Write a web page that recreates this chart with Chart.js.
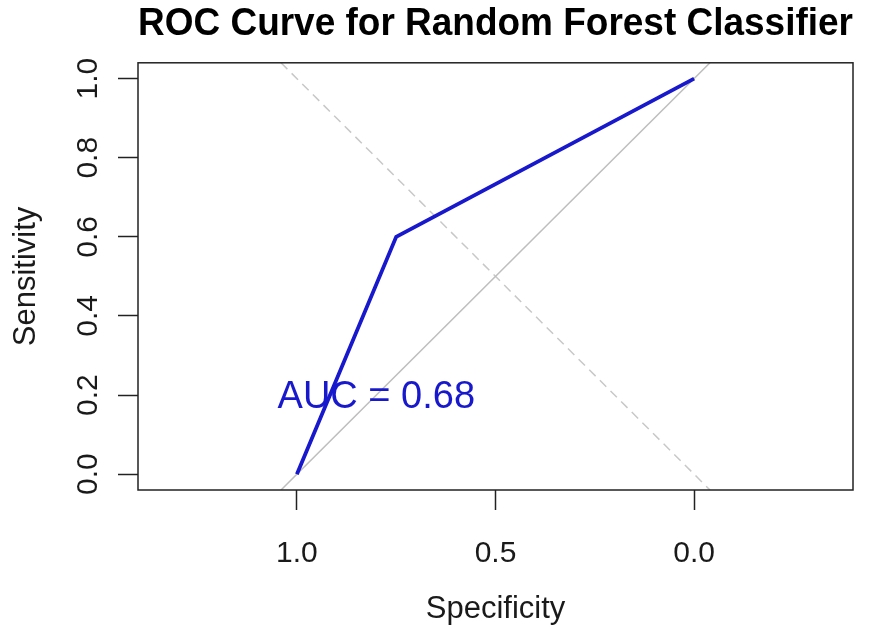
<!DOCTYPE html>
<html>
<head>
    <title>ROC Curve for Random Forest Classifier</title>
    <script src="https://cdn.jsdelivr.net/npm/chart.js"></script>
    <style>
        body { margin: 0; background: #fff; }
    </style>
</head>
<body>
    <canvas id="rocChart" width="876" height="629"></canvas>

    <script>
        // ROC curve points (specificity, sensitivity)
        var rocSpec = [1.0, 0.75, 0.0];
        var rocSens = [0.0, 0.60, 1.0];
        // chance line (sens = 1 - spec), and the dashed sens = spec line
        var chanceSpec = [1.04, -0.04];
        var chanceSens = [-0.04, 1.04];
        var dashSpec = [1.04, -0.04];
        var dashSens = [1.04, -0.04];
        // axis ticks
        var xTicks = [1.0, 0.5, 0.0];
        var yTicks = [0.0, 0.2, 0.4, 0.6, 0.8, 1.0];
        var aucText = "AUC = 0.68";
        var aucAt = { x: 0.8, y: 0.2 };

        var FONT = "'Liberation Sans', Arial, sans-serif";

        function toPoints(xs, ys) {
            return xs.map(function (x, i) { return { x: x, y: ys[i] }; });
        }

        // draws the full box around the plot and the AUC label
        var rBox = {
            id: 'rBox',
            afterDatasetsDraw: function (chart) {
                var ctx = chart.ctx, a = chart.chartArea;
                var xs = chart.scales.x, ys = chart.scales.y;
                ctx.save();
                ctx.fillStyle = '#1818cc';
                ctx.font = '38px ' + FONT;
                ctx.textAlign = 'center';
                ctx.textBaseline = 'middle';
                ctx.fillText(aucText, xs.getPixelForValue(aucAt.x), ys.getPixelForValue(aucAt.y) + 2);
                ctx.strokeStyle = '#222';
                ctx.lineWidth = 1.5;
                ctx.strokeRect(a.left, a.top, a.right - a.left, a.bottom - a.top);
                ctx.restore();
            }
        };

        var ctx = document.getElementById("rocChart").getContext("2d");
        var chart = new Chart(ctx, {
            type: 'line',
            data: {
                datasets: [{
                    label: 'ROC',
                    data: toPoints(rocSpec, rocSens),
                    borderColor: '#1818cc',
                    borderWidth: 3.8,
                    pointRadius: 0,
                    tension: 0
                }, {
                    label: 'chance',
                    data: toPoints(chanceSpec, chanceSens),
                    borderColor: '#bebebe',
                    borderWidth: 1.5,
                    pointRadius: 0,
                    clip: 0
                }, {
                    label: 'dashed',
                    data: toPoints(dashSpec, dashSens),
                    borderColor: '#c8c8c8',
                    borderWidth: 1.5,
                    borderDash: [9, 6],
                    pointRadius: 0,
                    clip: 0
                }]
            },
            options: {
                responsive: false,
                animation: false,
                devicePixelRatio: 1,
                layout: { padding: { left: 0, right: 23, top: 0, bottom: 0 } },
                plugins: {
                    legend: { display: false },
                    tooltip: { enabled: false },
                    title: {
                        display: true,
                        fullSize: false,
                        text: 'ROC Curve for Random Forest Classifier',
                        color: '#000',
                        font: { family: FONT, size: 38, weight: 'bold', lineHeight: 1.1 },
                        padding: { top: 4, bottom: 17 }
                    }
                },
                scales: {
                    x: {
                        type: 'linear',
                        min: -0.4,
                        max: 1.4,
                        reverse: true,
                        afterBuildTicks: function (s) {
                            s.ticks = xTicks.map(function (v) { return { value: v }; });
                        },
                        afterFit: function (s) { s.height = 139; },
                        grid: { drawOnChartArea: false, drawTicks: true, tickLength: 20, tickColor: '#222', tickWidth: 1.5 },
                        border: { display: false },
                        ticks: {
                            autoSkip: false,
                            maxRotation: 0,
                            padding: 26,
                            color: '#1a1a1a',
                            font: { family: FONT, size: 30 },
                            callback: function (v) { return v.toFixed(1); }
                        },
                        title: {
                            display: true,
                            text: 'Specificity',
                            color: '#1a1a1a',
                            font: { family: FONT, size: 31 },
                            padding: { top: 0, bottom: 0.5 }
                        }
                    },
                    y: {
                        type: 'linear',
                        min: -0.04,
                        max: 1.04,
                        afterBuildTicks: function (s) {
                            s.ticks = yTicks.map(function (v) { return { value: v }; });
                        },
                        afterFit: function (s) { s.width = 138; },
                        grid: { drawOnChartArea: false, drawTicks: true, tickLength: 20, tickColor: '#222', tickWidth: 1.5 },
                        border: { display: false },
                        ticks: {
                            minRotation: 90,
                            maxRotation: 90,
                            crossAlign: 'center',
                            padding: 8.5,
                            color: '#1a1a1a',
                            font: { family: FONT, size: 30 },
                            callback: function (v) { return v.toFixed(1); }
                        },
                        title: {
                            display: true,
                            text: 'Sensitivity',
                            color: '#1a1a1a',
                            font: { family: FONT, size: 31 },
                            padding: { top: 8, bottom: 0 }
                        }
                    }
                }
            },
            plugins: [rBox]
        });
    </script>
</body>
</html>
